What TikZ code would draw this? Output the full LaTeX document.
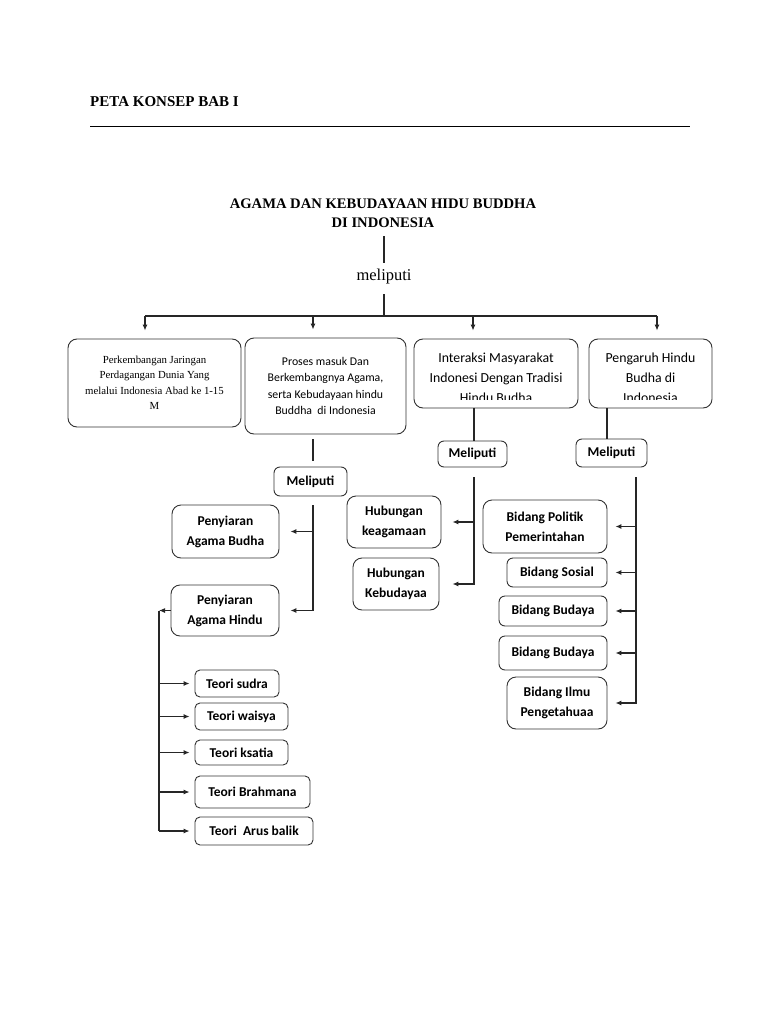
\documentclass[tikz,border=0pt]{standalone}
\usepackage{fontspec}
\setmainfont{Liberation Serif}
\newfontfamily\calfont{Carlito}
\usetikzlibrary{arrows.meta}
\begin{document}
\begin{tikzpicture}[x=1pt,y=-1pt,
 box/.style={draw=black!80, line width=0.9pt, rounded corners=9pt, align=center, inner sep=0pt, font=\calfont\bfseries\fontsize{13.5}{20}\selectfont},
 btext/.style={align=center, inner sep=0pt, anchor=north, font=\calfont\fontsize{13.8}{20}\selectfont},
 ln/.style={line width=1.1pt, draw=black!85},
 arr/.style={ln, -{Latex[length=6pt,width=5pt]}}]
\useasboundingbox (0,0) rectangle (768,1024);
\fill[white] (0,0) rectangle (768,1024);
% header
\node[anchor=west, inner sep=0pt, font=\bfseries\fontsize{15}{17}\selectfont] (hdr) at (90,102) {PETA KONSEP BAB I};
\coordinate (hl1) at (90,127); \coordinate (hl2) at (690,127);
\draw[line width=1pt] (hl1) -- (hl2);
% title
\node[align=center, inner sep=0pt, font=\bfseries\fontsize{14.6}{18.5}\selectfont] (title) at (383,213) {AGAMA DAN KEBUDAYAAN HIDU BUDDHA\\DI INDONESIA};
\node[inner sep=0pt, font=\fontsize{16.5}{18}\selectfont] (mel) at (384,277) {meliputi};
\coordinate (p1) at (384,236); \coordinate (p2) at (384,263);
\coordinate (p3) at (384,294); \coordinate (p4) at (384,316);
\coordinate (h1) at (145,316); \coordinate (h2) at (313,316);
\coordinate (h3) at (473,316); \coordinate (h4) at (657,316);
\draw[ln] (p1) -- (p2);
\draw[ln] (p3) -- (p4);
\draw[ln] (h1) -- (h4);
% main boxes
\node[box, minimum width=173pt, minimum height=88pt, font=\rmfamily\fontsize{10.8}{15.5}\selectfont] (b1) at (154.5,383) {Perkembangan Jaringan\\Perdagangan Dunia Yang\\melalui Indonesia Abad ke 1-15\\M};
\node[box, minimum width=161pt, minimum height=96pt, font=\calfont\fontsize{11.8}{16.5}\selectfont] (b2) at (325.5,386) {Proses masuk Dan\\Berkembangnya Agama,\\serta Kebudayaan hindu\\Buddha\ \ di Indonesia};
\node[box, minimum width=164pt, minimum height=69pt] (b3) at (496,373.5) {};
\node[box, minimum width=123pt, minimum height=69pt] (b4) at (650.5,373.5) {};
\begin{scope}
\clip (414,340) rectangle (712,399);
\node[btext] (b3t) at (b3.north) [yshift=-14pt] {Interaksi Masyarakat\\Indonesi Dengan Tradisi\\Hindu Budha};
\node[btext] (b4t) at (b4.north) [yshift=-14pt] {Pengaruh Hindu\\Budha di\\Indonesia};
\end{scope}
\draw[arr, shorten >=8pt] (h1) -- (h1 |- b1.north);
\draw[arr, shorten >=8pt] (h2) -- (h2 |- b2.north);
\draw[arr, shorten >=8pt] (h3) -- (h3 |- b3.north);
\draw[arr, shorten >=8pt] (h4) -- (h4 |- b4.north);
% meliputi boxes
\node[box, rounded corners=6pt, minimum width=73pt, minimum height=29pt] (m2) at (310.5,481.5) {Meliputi};
\node[box, rounded corners=6pt, minimum width=69pt, minimum height=26pt] (m3) at (472.5,454) {Meliputi};
\node[box, rounded corners=6pt, minimum width=71pt, minimum height=28pt] (m4) at (611.5,453) {Meliputi};
\coordinate (v2) at (313,0);
\coordinate (v3) at (474,0);
\coordinate (v4) at (607,0);
\coordinate (v5) at (636,0);
\coordinate (v6) at (159,0);
\draw[ln, shorten <=5pt, shorten >=6pt] (v2 |- b2.south) -- (v2 |- m2.north);
\draw[ln] (v3 |- b3.south) -- (v3 |- m3.north);
\draw[ln] (v4 |- b4.south) -- (v4 |- m4.north);
% second level
\node[box, minimum width=107pt, minimum height=53pt] (pab) at (225.5,531.5) {Penyiaran\\Agama Budha};
\node[box, minimum width=108pt, minimum height=51pt] (pah) at (225,610.5) {Penyiaran\\Agama Hindu};
\node[box, minimum width=94pt, minimum height=52pt] (hk) at (394,522) {Hubungan\\keagamaan};
\node[box, minimum width=86pt, minimum height=52pt] (hkb) at (396,584) {Hubungan\\Kebudayaa};
\node[box, minimum width=124pt, minimum height=53pt] (bpp) at (545,526.5) {Bidang Politik\\Pemerintahan};
\node[box, rounded corners=6pt, minimum width=100pt, minimum height=29pt] (bs) at (557,572.5) {Bidang Sosial};
\node[box, rounded corners=6pt, minimum width=108pt, minimum height=30pt] (bb1) at (553,611) {Bidang Budaya};
\node[box, rounded corners=6pt, minimum width=108pt, minimum height=34pt] (bb2) at (553,653) {Bidang Budaya};
\node[box, minimum width=100pt, minimum height=52pt] (bip) at (557,703) {Bidang Ilmu\\Pengetahuaa};
% trunk 2
\draw[arr, shorten <=9pt, shorten >=11pt] (v2 |- m2.south) |- (pah.east);
\draw[arr, shorten >=11pt] (v2 |- pab.east) -- (pab.east);
% trunk 3
\draw[arr, shorten <=10pt, shorten >=13pt] (v3 |- m3.south) |- (hkb.east);
\draw[arr, shorten >=11pt] (v3 |- hk.east) -- (hk.east);
% trunk 4
\draw[arr, shorten <=10pt, shorten >=8pt] (v5 |- m4.south) |- (bip.east);
\draw[arr, shorten >=8pt] (v5 |- bpp.east) -- (bpp.east);
\draw[arr, shorten >=8pt] (v5 |- bs.east) -- (bs.east);
\draw[arr, shorten >=8pt] (v5 |- bb1.east) -- (bb1.east);
\draw[arr, shorten >=8pt] (v5 |- bb2.east) -- (bb2.east);
% teori boxes
\node[box, rounded corners=5pt, minimum width=84pt, minimum height=27pt] (ts) at (237,683.5) {Teori sudra};
\node[box, rounded corners=5pt, minimum width=93pt, minimum height=27pt] (tw) at (241.5,716.5) {Teori waisya};
\node[box, rounded corners=5pt, minimum width=93pt, minimum height=25pt] (tk) at (241.5,752.5) {Teori ksatia};
\node[box, rounded corners=5pt, minimum width=115pt, minimum height=32pt] (tb) at (252.5,792) {Teori Brahmana};
\node[box, rounded corners=5pt, minimum width=118pt, minimum height=28pt] (ta) at (254,831) {Teori\ \ Arus balik};
\draw[arr] (pah.west) -- (v6 |- pah.west);
\draw[ln] (v6 |- pah.west) -- (v6 |- ta.west);
\draw[arr, shorten >=5pt] (v6 |- ts.west) -- (ts.west);
\draw[arr, shorten >=5pt] (v6 |- tw.west) -- (tw.west);
\draw[arr, shorten >=5pt] (v6 |- tk.west) -- (tk.west);
\draw[arr, shorten >=5pt] (v6 |- tb.west) -- (tb.west);
\draw[arr, shorten >=5pt] (v6 |- ta.west) -- (ta.west);
\end{tikzpicture}
\end{document}
